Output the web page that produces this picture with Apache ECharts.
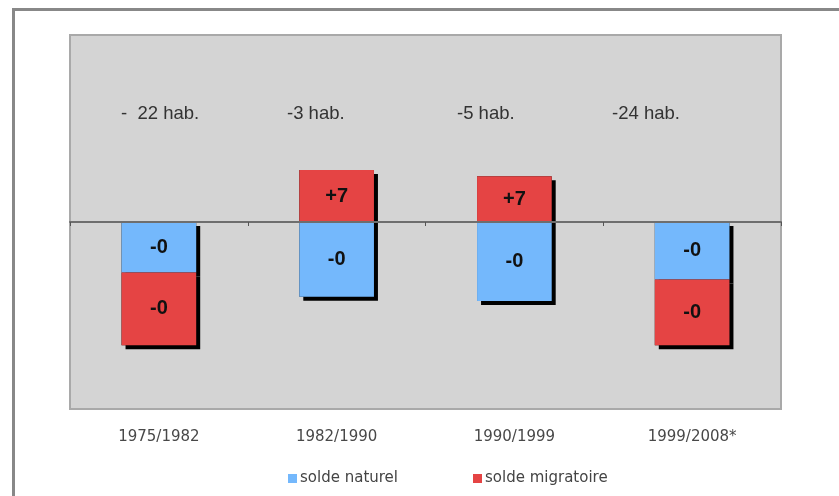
<!DOCTYPE html>
<html>
<head>
<meta charset="utf-8">
<script src="https://cdn.jsdelivr.net/npm/echarts@6/dist/echarts.min.js"></script>
<style>
  html, body { margin: 0; padding: 0; background: #fff; }
  #chart { width: 839px; height: 496px; }
</style>
</head>
<body>
<div id="chart"></div>
<script>
// Periods between censuses
const periods = ['1975/1982', '1982/1990', '1990/1999', '1999/2008*'];

// Natural balance and migration balance per period
const soldeNaturel = [-7.3, -10.8, -11.4, -8.3];
const soldeMigratoire = [-10.5, 7.5, 6.6, -9.5];

// Text printed inside the bars
const naturelLabels = ['-0', '-0', '-0', '-0'];
const migratoireLabels = ['-0', '+7', '+7', '-0'];

// Overall change per period
const totalLabels = ['-  22 hab.', '-3 hab.', '-5 hab.', '-24 hab.'];

const chart = echarts.init(document.getElementById('chart'));

const barLabel = (texts) => ({
  show: true,
  position: 'inside',
  fontFamily: 'Liberation Sans, Arial, sans-serif',
  fontSize: 20,
  fontWeight: 'bold',
  color: '#111',
  formatter: (p) => texts[p.dataIndex]
});

// Drop shadow layer: drawn first so the bars themselves cover
// any shadow falling onto a neighbouring segment
const shadowStyle = {
  color: '#000',
  shadowColor: '#000',
  shadowBlur: 0,
  shadowOffsetX: 4,
  shadowOffsetY: 4
};

const totalPositions = [
  { left: 121, top: 104 },
  { left: 287, top: 104 },
  { left: 457, top: 104 },
  { left: 612, top: 104 }
];

const common = {
  type: 'bar',
  xAxisIndex: 0,
  barCategoryGap: '58%',
  barGap: '-100%'
};

chart.setOption({
  animation: false,
  backgroundColor: '#fff',
  graphic: [
    {
      type: 'rect',
      shape: { x: 13.5, y: 9.5, width: 900, height: 600 },
      style: { fill: 'none', stroke: '#888', lineWidth: 3 },
      z: -10
    }
  ].concat(totalLabels.map((t, i) => ({
    type: 'text',
    left: totalPositions[i].left,
    top: totalPositions[i].top,
    style: {
      text: t,
      fontFamily: 'Liberation Sans, Arial, sans-serif',
      fontSize: 18.5,
      fill: '#333'
    },
    z: 10
  }))),
  grid: {
    left: 70, top: 35, right: 58, bottom: 87,
    show: true,
    backgroundColor: '#d4d4d4',
    borderColor: '#a9a9a9',
    borderWidth: 2
  },
  legend: {
    left: 283,
    top: 466,
    itemWidth: 9,
    itemHeight: 9,
    itemGap: 75,
    icon: 'rect',
    textStyle: {
      fontFamily: 'DejaVu Sans, sans-serif',
      fontSize: 15,
      color: '#444',
      padding: [0, 0, 0, -2]
    },
    data: [
      { name: 'solde naturel', itemStyle: { color: '#74b8fc' } },
      { name: 'solde migratoire', itemStyle: { color: '#e54444' } }
    ]
  },
  xAxis: [
    {
      type: 'category',
      data: periods,
      axisLine: { onZero: true, lineStyle: { color: '#6e6e6e', width: 2 } },
      axisTick: { show: true, length: 4, lineStyle: { color: '#555', width: 1 } },
      axisLabel: { show: false },
      z: 5
    },
    {
      type: 'category',
      data: periods,
      position: 'bottom',
      axisLine: { show: false, onZero: false },
      axisTick: { show: false },
      axisLabel: {
        margin: 21,
        fontFamily: 'DejaVu Sans, sans-serif',
        fontSize: 15,
        color: '#484848'
      }
    }
  ],
  yAxis: {
    type: 'value',
    min: -27,
    max: 27,
    show: false,
    splitLine: { show: false }
  },
  series: [
    Object.assign({}, common, {
      name: 'solde naturel',
      stack: 'shadow',
      z: 1,
      data: soldeNaturel,
      itemStyle: shadowStyle,
      label: { show: false }
    }),
    Object.assign({}, common, {
      name: 'solde migratoire',
      stack: 'shadow',
      z: 1,
      data: soldeMigratoire,
      itemStyle: shadowStyle,
      label: { show: false }
    }),
    Object.assign({}, common, {
      name: 'solde naturel',
      stack: 'solde',
      z: 3,
      data: soldeNaturel,
      itemStyle: { color: '#74b8fc' },
      label: barLabel(naturelLabels)
    }),
    Object.assign({}, common, {
      name: 'solde migratoire',
      stack: 'solde',
      z: 3,
      data: soldeMigratoire,
      itemStyle: { color: '#e54444' },
      label: barLabel(migratoireLabels)
    })
  ]
});
</script>
</body>
</html>
